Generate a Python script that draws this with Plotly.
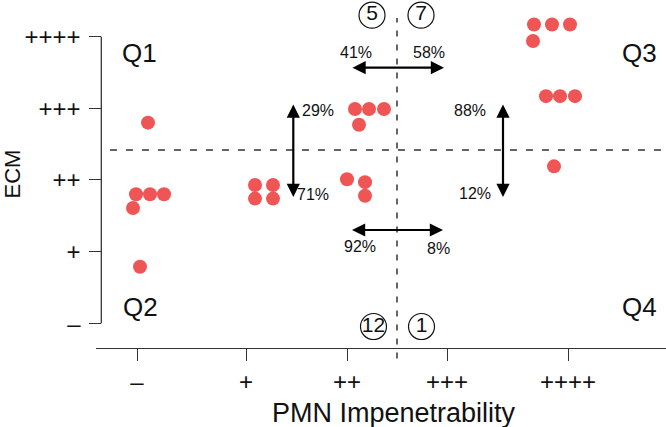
import plotly.graph_objects as go

# ---- data ----
x_tick_vals = [-0.1, 0.99, 2.0, 3.0, 4.21]
x_tick_text = ["–", "+", "++", "+++", "++++"]
y_tick_vals = [0, 1, 2, 3, 4]
y_tick_text = ["–", "+", "++", "+++", "++++"]

pmn = [0.01, -0.11, 0.03, 0.17, -0.14, -0.07,
       1.08, 1.26, 1.08, 1.26,
       2.08, 2.22, 2.37, 2.12, 2.00, 2.18, 2.18,
       3.87, 4.05, 4.23, 3.86, 3.99, 4.13, 4.28, 4.07]
ecm = [2.80, 1.80, 1.80, 1.80, 1.61, 0.79,
       1.93, 1.93, 1.74, 1.74,
       2.99, 2.99, 2.99, 2.77, 2.01, 1.97, 1.78,
       4.17, 4.17, 4.17, 3.94, 3.17, 3.17, 3.17, 2.19]

x_cut = 2.5
y_cut = 2.42

x_title = "PMN Impenetrability"
y_title = "ECM"
pct_labels = ["41%", "58%", "29%", "71%", "88%", "12%", "92%", "8%"]
quad_labels = ["Q1", "Q2", "Q3", "Q4"]

# quadrant counts derived from the points
q_tl = sum(1 for a, b in zip(pmn, ecm) if a < x_cut and b > y_cut)
q_tr = sum(1 for a, b in zip(pmn, ecm) if a > x_cut and b > y_cut)
q_bl = sum(1 for a, b in zip(pmn, ecm) if a < x_cut and b < y_cut)
q_br = sum(1 for a, b in zip(pmn, ecm) if a > x_cut and b < y_cut)

FONT = "Liberation Sans, Arial, sans-serif"
AXC = "#333333"
YPOS = 0.0093

fig = go.Figure()

fig.add_trace(go.Scatter(
    x=pmn, y=ecm, mode="markers",
    marker=dict(size=14, color="#F05555", line=dict(width=0)),
    cliponaxis=False, showlegend=False, hoverinfo="skip"))

fig.add_trace(go.Scatter(
    x=[2.25, 2.74, 2.265, 2.745], y=[4.30, 4.30, -0.045, -0.045],
    mode="markers+text",
    text=[str(q_tl), str(q_tr), str(q_bl), str(q_br)],
    textposition="middle center",
    textfont=dict(family=FONT, size=21, color="#111"),
    marker=dict(symbol="circle-open", size=26, color="#111", line=dict(width=1.2)),
    cliponaxis=False, showlegend=False, hoverinfo="skip"))

# y-axis spine limited to tick range
fig.add_shape(type="line", xref="paper", yref="y", x0=YPOS, x1=YPOS,
              y0=y_tick_vals[0], y1=y_tick_vals[-1],
              line=dict(color=AXC, width=1.3))
# dashed dividers
fig.add_shape(type="line", xref="x", yref="paper", x0=x_cut, x1=x_cut, y0=-0.03, y1=0.948,
              line=dict(color="#333", width=1.5, dash="6px,8px"))
fig.add_shape(type="line", xref="x", yref="y", x0=-0.37, x1=5.19, y0=y_cut, y1=y_cut,
              line=dict(color="#333", width=1.5, dash="7px,9px"))

annotations = []
for (x0, y0, x1, y1) in [(2.04, 3.567, 2.97, 3.567),
                         (1.463, 3.075, 1.463, 1.763),
                         (3.56, 3.075, 3.56, 1.763),
                         (2.035, 1.302, 2.96, 1.302)]:
    annotations.append(dict(x=x1, y=y1, ax=x0, ay=y0, xref="x", yref="y",
                            axref="x", ayref="y", text="", showarrow=True,
                            arrowhead=2, arrowside="end+start", arrowsize=1.2,
                            arrowwidth=2.2, arrowcolor="#000",
                            standoff=0, startstandoff=0))

pct_pos = [(2.087, 3.777), (2.82, 3.777), (1.713, 2.967), (1.66, 1.80),
           (3.227, 2.963), (3.277, 1.814), (2.127, 1.069), (2.91, 1.047)]
for t, (px, py) in zip(pct_labels, pct_pos):
    annotations.append(dict(x=px, y=py, xref="x", yref="y", text=t, showarrow=False,
                            font=dict(family=FONT, size=16, color="#111")))

q_pos = [(-0.08, 3.77), (-0.07, 0.232), (4.92, 3.77), (4.92, 0.232)]
for t, (px, py) in zip(quad_labels, q_pos):
    annotations.append(dict(x=px, y=py, xref="x", yref="y", text=t, showarrow=False,
                            font=dict(family=FONT, size=26, color="#111")))

# x-axis title (placed slightly right of centre as in the reference)
annotations.append(dict(x=2.47, y=-0.187, xref="x", yref="paper", text=x_title,
                        showarrow=False, xanchor="center", yanchor="middle",
                        font=dict(family=FONT, size=27, color="#111")))

fig.update_layout(
    template="none",
    width=666, height=427,
    margin=dict(l=96, r=0, t=0, b=79, pad=0),
    paper_bgcolor="white", plot_bgcolor="white",
    font=dict(family=FONT, color="#111"),
    annotations=annotations,
    xaxis=dict(range=[-0.51, 5.19], domain=[0, 1], anchor="free", position=0,
               automargin=False,
               tickmode="array", tickvals=x_tick_vals, ticktext=x_tick_text,
               showgrid=False, zeroline=False, showline=True, linecolor=AXC, linewidth=1.3,
               ticks="outside", ticklen=12, tickwidth=1.3, tickcolor=AXC,
               tickfont=dict(family=FONT, size=24, color="#111")),
    yaxis=dict(range=[-0.345, 4.512], domain=[0, 1], anchor="free", position=YPOS,
               automargin=False,
               tickmode="array", tickvals=y_tick_vals, ticktext=y_tick_text,
               showgrid=False, zeroline=False, showline=False,
               ticks="outside", ticklen=12, tickwidth=1.3, tickcolor=AXC,
               tickfont=dict(family=FONT, size=24, color="#111"),
               ticklabelstandoff=4,
               title=dict(text=y_title, standoff=17,
                          font=dict(family=FONT, size=22, color="#111"))),
)

fig.write_html("out.html", config={"displayModeBar": False},
               post_script="document.body.style.margin='0';")
